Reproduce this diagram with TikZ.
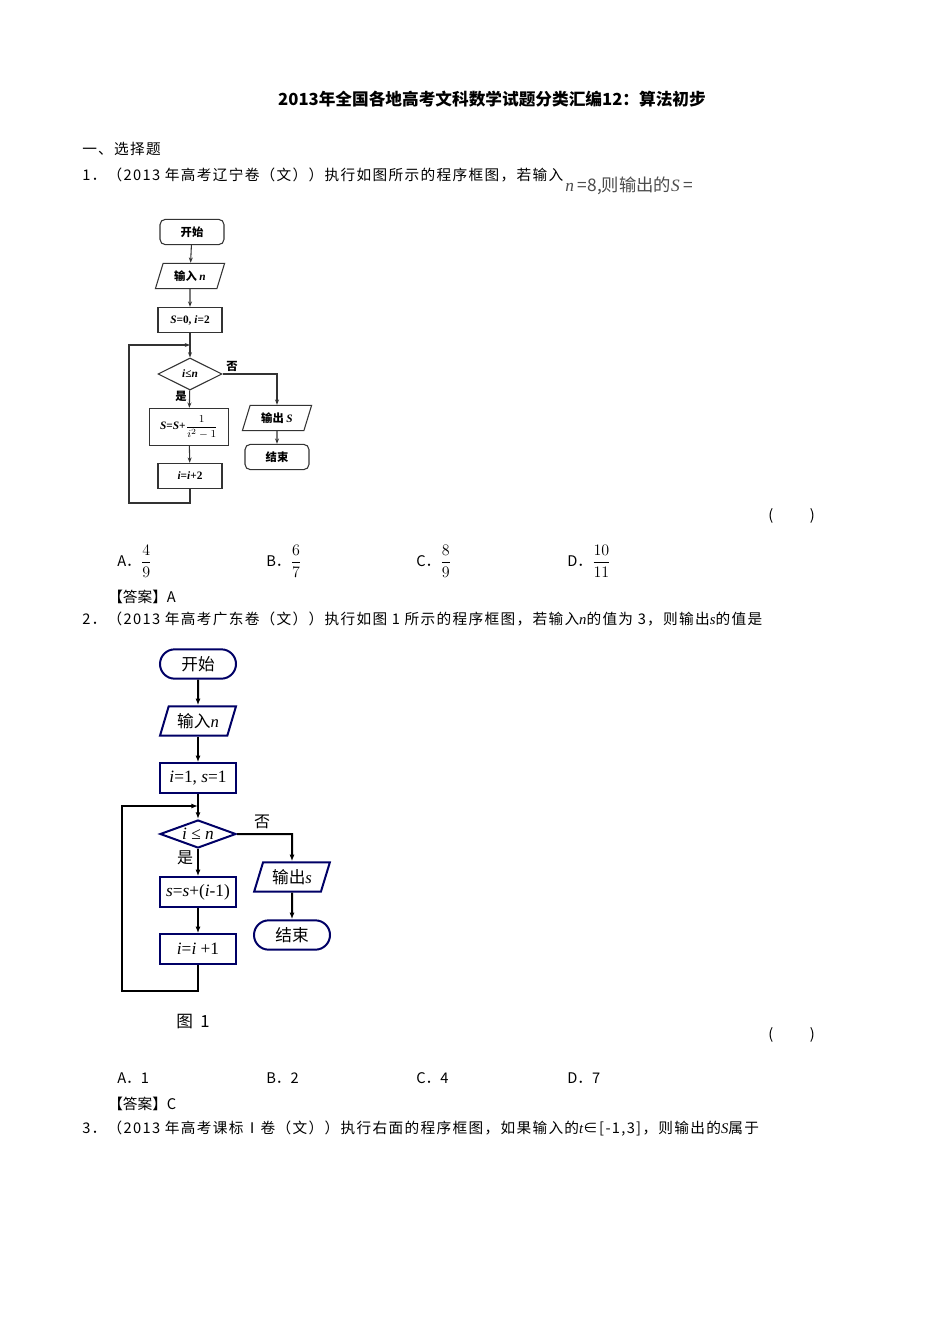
\documentclass[tikz,border=0pt]{standalone}
\usepackage{fontspec}
\setmainfont{Liberation Serif}
\newfontfamily\cjk{Noto Sans CJK SC}
\newfontfamily\cjkw[LetterSpace=9]{Noto Sans CJK SC}
\newcommand{\iv}[1]{{\rmfamily\itshape #1}}
\usetikzlibrary{shapes.geometric,arrows.meta}
\begin{document}
\begin{tikzpicture}[x=0.75pt,y=-0.75pt,
  t/.style={inner sep=0,anchor=west,font=\cjkw\fontsize{11}{13}\selectfont},
  aa/.style={draw=black!80,thick,rounded corners=4,minimum width=48pt,minimum height=19pt,font=\cjk\bfseries\fontsize{8.5}{10}\selectfont,inner sep=1pt},
  ar/.style={draw=black!80,thick,minimum width=48pt,minimum height=19pt,font=\bfseries\fontsize{8.5}{10}\selectfont,inner sep=1pt},
  ap/.style={draw=black!80,thick,trapezium,trapezium left angle=70,trapezium right angle=110,trapezium stretches=true,minimum width=48pt,minimum height=19pt,font=\cjk\bfseries\fontsize{8.5}{10}\selectfont,inner sep=1pt},
  ad/.style={draw=black!80,thick,diamond,aspect=2,minimum width=48pt,minimum height=24pt,inner sep=0,font=\bfseries\fontsize{8.5}{10}\selectfont},
  ea/.style={draw=black!80,thick,-{Stealth[length=4pt]}},
  bb/.style={draw=blue!40!black,line width=1.5pt,fill=white,minimum width=57pt,minimum height=22pt,inner sep=1pt,font=\fontsize{13}{15}\selectfont},
  bs/.style={bb,rounded corners=11pt,font=\cjk\fontsize{12.5}{15}\selectfont},
  bp/.style={bb,trapezium,trapezium left angle=70,trapezium right angle=110,trapezium stretches=true,font=\cjk\fontsize{12.5}{15}\selectfont},
  bd/.style={bb,diamond,aspect=2.7,minimum height=21pt,inner sep=0},
  eb/.style={draw=black,line width=1.5pt,-{Latex[length=5pt]}},
  fr/.style={t,font=\cjk\fontsize{11}{13}\selectfont}]
\useasboundingbox (0,0) rectangle (950,1344);
\fill[white] (0,0) rectangle (950,1344);
% text
\node[inner sep=0,font=\cjk\bfseries\fontsize{12.5}{15}\selectfont] (title) at (492,99) {2013年全国各地高考文科数学试题分类汇编12：算法初步};
\node[t] (sec) at (82,149) {一、选择题};
\node[t] (q1) at (82,175) {1．（2013 年高考辽宁卷（文））执行如图所示的程序框图，若输入};
\node[t,font=\cjk\fontsize{13}{15}\selectfont,text=black!70] (q1b) at (565,186) {\iv{n} =8,则输出的\iv{S} =};
\node[t] (p1) at (768,516) {(\hspace{2.5em})};
\node[fr] (a1) at (117,561) {A．\fontsize{13}{15}\selectfont$\displaystyle\frac{4}{9}$};
\node[fr] (b1) at (266,561) {B．\fontsize{13}{15}\selectfont$\displaystyle\frac{6}{7}$};
\node[fr] (c1) at (416,561) {C．\fontsize{13}{15}\selectfont$\displaystyle\frac{8}{9}$};
\node[fr] (d1) at (567,561) {D．\fontsize{13}{15}\selectfont$\displaystyle\frac{10}{11}$};
\node[fr] (ans1) at (108,597) {【答案】A};
\node[t] (q2) at (82,619) {2．（2013 年高考广东卷（文））执行如图 1 所示的程序框图，若输入\iv{n}的值为 3，则输出\iv{s}的值是};
\node[t,font=\cjk\fontsize{12.5}{15}\selectfont] (fig1) at (176,1022) {图\ \ 1};
\node[t] (p2) at (768,1035) {(\hspace{2.5em})};
\node[fr] (a2) at (117,1078) {A．1};
\node[fr] (b2) at (266,1078) {B．2};
\node[fr] (c2) at (416,1078) {C．4};
\node[fr] (d2) at (567,1078) {D．7};
\node[fr] (ans2) at (108,1104) {【答案】C};
\node[t] (q3) at (82,1129) {3．（2013 年高考课标Ⅰ卷（文））执行右面的程序框图，如果输入的\iv{t}∈[-1,3]，则输出的\iv{S}属于};
% flowchart 1
\node[aa] (s1) at (192,232) {开始};
\node[ap,minimum width=52pt] (in1) at (190,276) {输入 \iv{n}};
\node[ar] (init1) at (190,320) {\iv{S}=0, \iv{i}=2};
\node[ad] (dec1) at (190,374) {\iv{i}≤\iv{n}};
\node[ar,minimum width=59pt,minimum height=28pt] (upd1) at (189,427) {\iv{S}=\iv{S}+$\displaystyle\frac{1}{i^2-1}$};
\node[ar] (inc1) at (190,476) {\iv{i}=\iv{i}+2};
\node[ap,minimum width=52pt] (out1) at (277,418) {输出 \iv{S}};
\node[aa] (e1) at (277,457) {结束};
\coordinate (j1) at (190,345);
\coordinate (lb1) at (129,503);
\coordinate (lt1) at (129,345);
\coordinate (r1) at (277,374);
\draw[ea] (s1) -- (in1);
\draw[ea] (in1) -- (init1);
\draw[ea] (init1) -- (dec1);
\draw[ea] (dec1) -- (upd1);
\draw[ea] (upd1) -- (inc1);
\draw[ea] (inc1.south) |- (lb1) -- (lt1) -- (j1);
\draw[ea] (dec1.east) -- (r1) -- (out1);
\draw[ea] (out1) -- (e1);
\node[font=\cjk\bfseries\fontsize{8.5}{10}\selectfont] (no1) at (232,366) {否};
\node[font=\cjk\bfseries\fontsize{8.5}{10}\selectfont] (yes1) at (181,396) {是};
% flowchart 2
\coordinate (j2) at (198,806);
\coordinate (lb2) at (122,991);
\coordinate (lt2) at (122,806);
\coordinate (r2) at (292,834);
\node[bs] (s2) at (198,664) {开始};
\node[bp] (in2) at (198,721) {输入\iv{n}};
\node[bb] (init2) at (198,778) {\iv{i}=1, \iv{s}=1};
\node[bd] (dec2) at (198,834) {\iv{i} ≤ \iv{n}};
\node[bb] (upd2) at (198,892) {\iv{s}=\iv{s}+(\iv{i}-1)};
\node[bb] (inc2) at (198,949) {\iv{i}=\iv{i} +1};
\node[bp] (out2) at (292,877) {输出\iv{s}};
\node[bs] (e2) at (292,935) {结束};
\draw[eb] (s2) -- (in2);
\draw[eb] (in2) -- (init2);
\draw[eb] (init2) -- (dec2);
\draw[eb] (dec2) -- (upd2);
\draw[eb] (upd2) -- (inc2);
\draw[eb] (inc2.south) |- (lb2) -- (lt2) -- (j2);
\draw[eb] (dec2.east) -- (r2) -- (out2);
\draw[eb] (out2) -- (e2);
\node[font=\cjk\fontsize{12}{14}\selectfont] (no2) at (262,822) {否};
\node[font=\cjk\fontsize{12}{14}\selectfont] (yes2) at (185,858) {是};
\end{tikzpicture}
\end{document}
